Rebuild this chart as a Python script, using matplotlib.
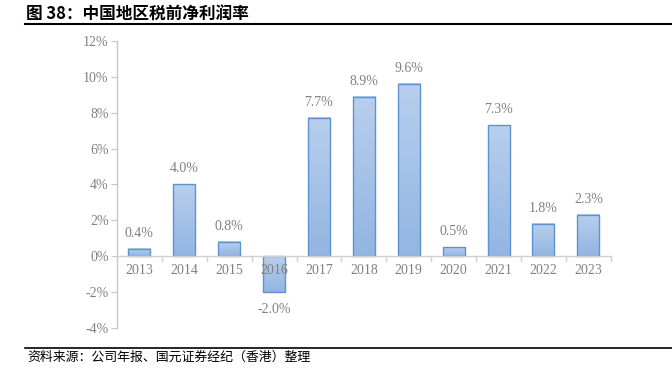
import numpy as np
import matplotlib.pyplot as plt
from matplotlib.lines import Line2D
from matplotlib.colors import LinearSegmentedColormap

years = ['2013', '2014', '2015', '2016', '2017', '2018', '2019', '2020', '2021', '2022', '2023']
margin = [0.4, 4.0, 0.8, -2.0, 7.7, 8.9, 9.6, 0.5, 7.3, 1.8, 2.3]
yticks = [-4, -2, 0, 2, 4, 6, 8, 10, 12]

title = '图 38：中国地区税前净利润率'
source = '资料来源：公司年报、国元证券经纪（香港）整理'

gray = '#808080'
serif = ['Liberation Serif', 'DejaVu Serif']

fig = plt.figure(figsize=(6.72, 3.79), dpi=100)
ax = fig.add_axes([0.174, 0.135, 0.735, 0.757])

x = np.arange(len(years))
bars = ax.bar(x, margin, width=0.49, color='none', edgecolor='#5f92d2', linewidth=1.0, zorder=3)

# vertical gradient fill, lighter on top
grad = np.linspace(0, 1, 100).reshape(-1, 1)
cmap = LinearSegmentedColormap.from_list('g', ['#92b5e2', '#b8cfed'])
for b in bars:
    x0, y0 = b.get_x(), b.get_y()
    w, h = b.get_width(), b.get_height()
    lo, hi = min(y0, y0 + h), max(y0, y0 + h)
    ax.imshow(grad, cmap=cmap, origin='lower', aspect='auto',
              extent=(x0, x0 + w, lo, hi), zorder=2)

ax.set_xlim(-0.5, len(years) - 0.5)
ax.set_ylim(-4, 12)

for s in ['top', 'right', 'bottom']:
    ax.spines[s].set_visible(False)
ax.spines['left'].set_color('#c8c8c8')
ax.spines['left'].set_linewidth(1.0)

ax.set_yticks(yticks)
ax.set_yticklabels(['{}%'.format(v) for v in yticks], fontfamily=serif, fontsize=10, color=gray)
ax.tick_params(axis='y', colors='#c8c8c8', length=4, pad=2, labelcolor=gray)
ax.set_xticks([])

# zero line with separator ticks
ax.axhline(0, color='#d0d0d0', lw=1.0, zorder=4)
for sep in np.arange(-0.5, len(years), 1.0):
    ax.plot([sep, sep], [0, -0.3], color='#d0d0d0', lw=1.0, zorder=4, clip_on=False)

for xi, yr in zip(x, years):
    ax.text(xi, -0.45, yr, ha='center', va='top', fontfamily=serif, fontsize=10, color=gray, zorder=5)

for xi, v in zip(x, margin):
    if v >= 0:
        ax.text(xi, v + 0.5, '{:.1f}%'.format(v), ha='center', va='bottom',
                fontfamily=serif, fontsize=10, color=gray)
    else:
        ax.text(xi, v - 0.6, '{:.1f}%'.format(v), ha='center', va='top',
                fontfamily=serif, fontsize=10, color=gray)

fig.text(0.038, 0.962, title, ha='left', va='center', fontsize=12, fontweight='bold',
         family=['Noto Sans CJK SC', 'DejaVu Sans'])
fig.add_artist(Line2D([0.037, 1.0], [0.937, 0.937], color='black', lw=1.5, transform=fig.transFigure))
fig.add_artist(Line2D([0.037, 1.0], [0.082, 0.082], color='black', lw=1.2, transform=fig.transFigure))
fig.text(0.04, 0.058, source, ha='left', va='center', fontsize=9.3, style='italic',
         family=['Noto Sans CJK SC', 'DejaVu Sans'])

fig.savefig('out.png', dpi=100)
